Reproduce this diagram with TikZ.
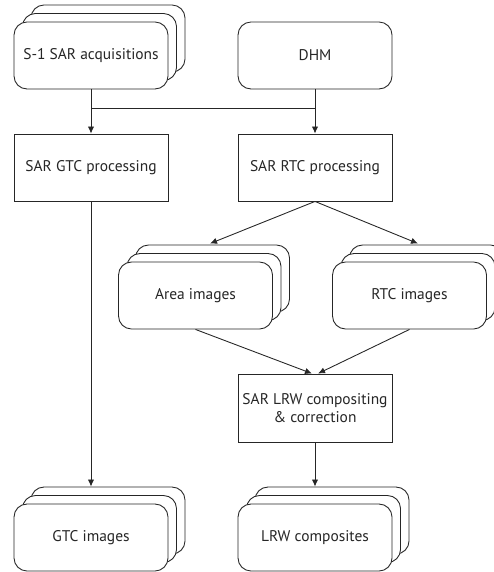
\documentclass[tikz,border=0pt]{standalone}
\usepackage{fontspec}
\setmainfont{PT Sans}
\usetikzlibrary{shadows,arrows.meta}

\begin{document}
\begin{tikzpicture}[font=\fontsize{8.8}{10.5}\selectfont, line width=0.5pt, draw=black!85, text=black!85,
    >={Latex[length=4pt,width=3.6pt]},
    proc/.style={draw, minimum width=3.08cm, minimum height=1.34cm, inner sep=1pt, align=center},
    src/.style={proc, rounded corners=0.26cm, fill=white},
    stack/.style={src, double copy shadow={shadow xshift=0.17cm, shadow yshift=0.17cm}}]
    \useasboundingbox (0,0) rectangle (9.86,-11.44);

    \node (acq) [stack] at (1.82, -1.11) {S-1 SAR acquisitions};
    \node (dhm) [src] at (6.30, -1.11) {DHM};
    \node (gtcproc) [proc] at (1.82, -3.35) {SAR GTC processing};
    \node (rtcproc) [proc] at (6.30, -3.35) {SAR RTC processing};
    \node (area) [stack] at (3.91, -5.91) {Area images};
    \node (rtcimg) [stack] at (8.19, -5.91) {RTC images};
    \node (lrw) [proc, minimum height=1.36cm] at (6.30, -8.16) {SAR LRW compositing\\\& correction};
    \node (gtcimg) [stack] at (1.82, -10.75) {GTC images};
    \node (lrwimg) [stack] at (6.30, -10.75) {LRW composites};

    \coordinate (jl) at (1.82, -2.16);
    \coordinate (jr) at (6.30, -2.16);
    \coordinate (areatop) at ([xshift=0.29cm, yshift=0.36cm]area.north);
    \coordinate (rtctop) at ([xshift=0.17cm, yshift=0.36cm]rtcimg.north);
    \coordinate (gtctop) at ([yshift=0.34cm]gtcimg.north);
    \coordinate (lrwtop) at ([yshift=0.34cm]lrwimg.north);

    \draw[->] (acq) -- (gtcproc);
    \draw[->] (dhm) -- (rtcproc);
    \draw (jl) -- (jr);
    \draw[->] (rtcproc.south) -- (areatop);
    \draw[->] (rtcproc.south) -- (rtctop);
    \draw[->] (area.south) -- ([xshift=-0.06cm]lrw.north);
    \draw[->] (rtcimg.south) -- ([xshift=0.06cm]lrw.north);
    \draw[->] (gtcproc) -- (gtctop);
    \draw[->] (lrw) -- (lrwtop);
\end{tikzpicture}
\end{document}
